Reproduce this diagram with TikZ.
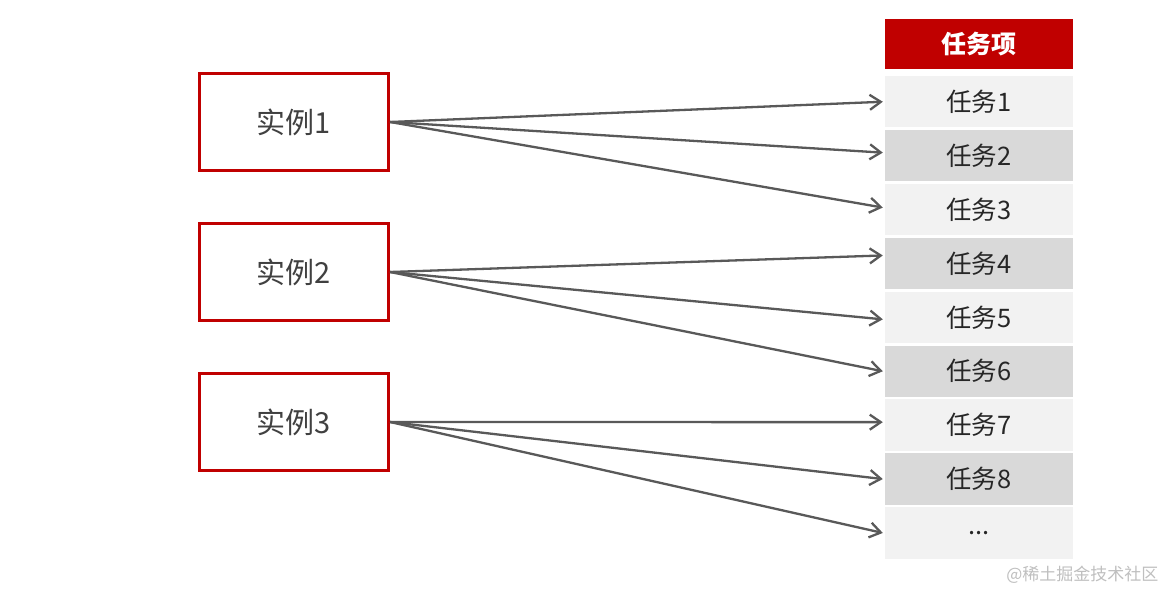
\documentclass[tikz,border=0pt]{standalone}
\usepackage{fontspec}
\setmainfont{Noto Sans CJK SC}
\usetikzlibrary{arrows.meta,calc}
\definecolor{myred}{HTML}{C00000}
\definecolor{rowlight}{HTML}{F2F2F2}
\definecolor{rowdark}{HTML}{D9D9D9}
\definecolor{arrowgrey}{HTML}{595959}
\definecolor{txtgrey}{HTML}{404040}
\definecolor{wmgrey}{HTML}{BFBFBF}
\begin{document}
\begin{tikzpicture}[x=1pt,y=-1pt,
  inst/.style={draw=myred,line width=3pt,fill=white,minimum width=189pt,minimum height=97pt,inner sep=0pt,
    font=\fontsize{29}{32}\selectfont,text=txtgrey},
  header/.style={fill=myred,minimum width=188pt,minimum height=50pt,inner sep=0pt,
    font=\fontsize{25}{28}\selectfont\bfseries,text=white},
  rowl/.style={fill=rowlight,minimum width=188pt,minimum height=51.5pt,inner sep=0pt,
    font=\fontsize{25.5}{28}\selectfont,text=black!85},
  rowd/.style={rowl,fill=rowdark},
  conn/.style={draw=arrowgrey,line width=2.3pt,-{Straight Barb[length=11pt,width=15pt,line width=2.3pt]}},
  wm/.style={font=\fontsize{17}{20}\selectfont,text=wmgrey}]
\useasboundingbox[fill=white] (0,0) rectangle (1168,591);

\node[inst] (i1) at (294,122) {实例1};
\node[inst] (i2) at (294,272) {实例2};
\node[inst] (i3) at (294,422) {实例3};

\node[header] (h) at (979,44) {任务项};
\node[rowl] (t1) at (979,101.75) {任务1};
\node[rowd] (t2) at (979,155.65) {任务2};
\node[rowl] (t3) at (979,209.55) {任务3};
\node[rowd] (t4) at (979,263.45) {任务4};
\node[rowl] (t5) at (979,317.35) {任务5};
\node[rowd] (t6) at (979,371.25) {任务6};
\node[rowl] (t7) at (979,425.15) {任务7};
\node[rowd] (t8) at (979,479.05) {任务8};
\node[rowl] (t9) at (979,532.95) {...};

\draw[conn] (i1.east) -- ([xshift=-2pt]t1.west);
\draw[conn] (i1.east) -- ([xshift=-2pt,yshift=3pt]t2.west);
\draw[conn] (i1.east) -- ([xshift=-2pt,yshift=2pt]t3.west);
\draw[conn] (i2.east) -- ([xshift=-2pt,yshift=8pt]t4.west);
\draw[conn] (i2.east) -- ([xshift=-2pt,yshift=-2pt]t5.west);
\draw[conn] (i2.east) -- ([xshift=-2pt]t6.west);
\draw[conn] (i3.east) -- ([xshift=-2pt,yshift=3pt]t7.west);
\draw[conn] (i3.east) -- ([xshift=-2pt]t8.west);
\draw[conn] (i3.east) -- ([xshift=-2pt]t9.west);

\node[wm,anchor=east] (wmk) at (1162,575) {@稀土掘金技术社区};
\end{tikzpicture}
\end{document}
